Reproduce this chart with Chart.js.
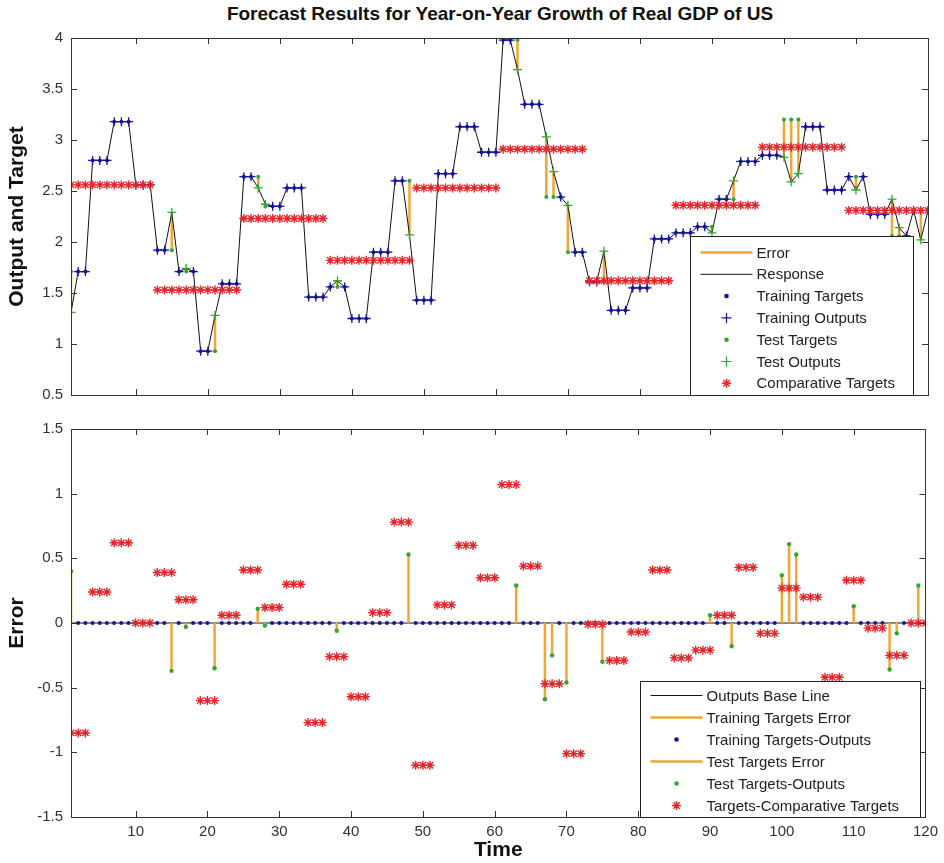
<!DOCTYPE html>
<html>
<head>
<meta charset="utf-8">
<script src="https://cdn.jsdelivr.net/npm/chart.js@4.4.1/dist/chart.umd.min.js"></script>
<style>
  body { margin: 0; background: #fff; }
  #wrap { position: relative; width: 944px; height: 863px; }
  #title { position: absolute; top: 2px; left: 71px; width: 858px; text-align: center;
           font: bold 19px 'Liberation Sans', Arial, sans-serif; color: #111; line-height: 24px; }
  canvas { position: absolute; left: 0; }
</style>
</head>
<body>
<div id="wrap">
  <div id="title">Forecast Results for Year-on-Year Growth of Real GDP of US</div>
  <canvas id="outputChart" width="944" height="412" style="top:0"></canvas>
  <canvas id="errorChart" width="944" height="451" style="top:412px"></canvas>
</div>
<script>
// time index 1..120
const time = Array.from({length: 120}, (_, i) => i + 1);

// targets
const targets = [
  1.71, 1.71, 1.71, 2.80, 2.80, 2.80, 3.18, 3.18, 3.18, 2.56, 2.56, 2.56,
  1.92, 1.92, 1.92, 1.71, 1.71, 1.71, 0.93, 0.93, 0.93, 1.59, 1.59, 1.59,
  2.64, 2.64, 2.64, 2.35, 2.35, 2.35, 2.53, 2.53, 2.53, 1.46, 1.46, 1.46,
  1.56, 1.56, 1.56, 1.25, 1.25, 1.25, 1.90, 1.90, 1.90, 2.60, 2.60, 2.60,
  1.43, 1.43, 1.43, 2.67, 2.67, 2.67, 3.13, 3.13, 3.13, 2.88, 2.88, 2.88,
  3.98, 3.98, 3.98, 3.35, 3.35, 3.35, 2.44, 2.44, 2.44, 1.90, 1.90, 1.90,
  1.61, 1.61, 1.61, 1.33, 1.33, 1.33, 1.55, 1.55, 1.55, 2.03, 2.03, 2.03,
  2.09, 2.09, 2.09, 2.15, 2.15, 2.15, 2.42, 2.42, 2.42, 2.79, 2.79, 2.79,
  2.85, 2.85, 2.85, 3.20, 3.20, 3.20, 3.13, 3.13, 3.13, 2.51, 2.51, 2.51,
  2.64, 2.64, 2.64, 2.27, 2.27, 2.27, 2.06, 2.06, 2.06, 2.31, 2.31, 2.31
];

// comparative targets (yearly level)
const comparativeTargets = [
  2.56, 2.56, 2.56, 2.56, 2.56, 2.56, 2.56, 2.56, 2.56, 2.56, 2.56, 2.56,
  1.53, 1.53, 1.53, 1.53, 1.53, 1.53, 1.53, 1.53, 1.53, 1.53, 1.53, 1.53,
  2.23, 2.23, 2.23, 2.23, 2.23, 2.23, 2.23, 2.23, 2.23, 2.23, 2.23, 2.23,
  1.82, 1.82, 1.82, 1.82, 1.82, 1.82, 1.82, 1.82, 1.82, 1.82, 1.82, 1.82,
  2.53, 2.53, 2.53, 2.53, 2.53, 2.53, 2.53, 2.53, 2.53, 2.53, 2.53, 2.53,
  2.91, 2.91, 2.91, 2.91, 2.91, 2.91, 2.91, 2.91, 2.91, 2.91, 2.91, 2.91,
  1.62, 1.62, 1.62, 1.62, 1.62, 1.62, 1.62, 1.62, 1.62, 1.62, 1.62, 1.62,
  2.36, 2.36, 2.36, 2.36, 2.36, 2.36, 2.36, 2.36, 2.36, 2.36, 2.36, 2.36,
  2.93, 2.93, 2.93, 2.93, 2.93, 2.93, 2.93, 2.93, 2.93, 2.93, 2.93, 2.93,
  2.31, 2.31, 2.31, 2.31, 2.31, 2.31, 2.31, 2.31, 2.31, 2.31, 2.31, 2.31
];

// test samples and the network outputs at them
const testTimes   = [1, 15, 17, 21, 27, 28, 38, 48, 63, 67, 68, 70, 75, 90, 93, 100, 101, 102, 110, 115, 116, 119];
const testOutputs = [1.31, 2.29, 1.74, 1.28, 2.53, 2.37, 1.62, 2.07, 3.69, 3.03, 2.69, 2.36, 1.91, 2.09, 2.60, 2.83, 2.59, 2.67, 2.51, 2.42, 2.14, 2.02];

const xTicks = [10, 20, 30, 40, 50, 60, 70, 80, 90, 100, 110, 120];
const outputTicks = [0.5, 1, 1.5, 2, 2.5, 3, 3.5, 4];
const errorTicks = [-1.5, -1, -0.5, 0, 0.5, 1, 1.5];

const blue = '#14149a';
const green = '#2ea82e';
const red = '#e2262b';
const orange = '#f2a634';

// outputs = targets for training samples, network output for test samples
const outputs = targets.slice();
testTimes.forEach((t, i) => { outputs[t - 1] = testOutputs[i]; });
const trainTimes = time.filter(t => !testTimes.includes(t));

Chart.defaults.font.family = "'Liberation Sans', Arial, sans-serif";
Chart.defaults.color = '#222';

// box, inward ticks and legend like a MATLAB axes
const matlabFrame = {
  id: 'matlabFrame',
  afterDatasetsDraw(chart, args, opts) {
    const ctx = chart.ctx;
    const a = chart.chartArea;
    const sx = chart.scales.x, sy = chart.scales.y;
    ctx.save();
    ctx.strokeStyle = '#333';
    ctx.lineWidth = 1;
    ctx.beginPath();
    xTicks.forEach(v => {
      const px = Math.round(sx.getPixelForValue(v)) + 0.5;
      ctx.moveTo(px, a.top); ctx.lineTo(px, a.top + 6);
      ctx.moveTo(px, a.bottom); ctx.lineTo(px, a.bottom - 6);
    });
    opts.yTicks.forEach(v => {
      const py = Math.round(sy.getPixelForValue(v)) + 0.5;
      ctx.moveTo(a.left, py); ctx.lineTo(a.left + 6, py);
      ctx.moveTo(a.right, py); ctx.lineTo(a.right - 6, py);
    });
    ctx.stroke();
    ctx.strokeRect(Math.round(a.left) + 0.5, Math.round(a.top) + 0.5, Math.round(a.right - a.left), Math.round(a.bottom - a.top));

    // legend box
    const lg = opts.legend;
    const right = Math.round(a.right - lg.right) + 0.5;
    const bottom = Math.round(a.bottom) + 0.5;
    const left = right - lg.width, top = bottom - lg.height;
    ctx.fillStyle = '#fff';
    ctx.fillRect(left, top, lg.width, lg.height);
    ctx.strokeStyle = '#222';
    ctx.strokeRect(left, top, lg.width, lg.height);
    ctx.font = "15px 'Liberation Sans', Arial, sans-serif";
    ctx.textBaseline = 'middle';
    lg.items.forEach((it, i) => {
      const y = top + lg.first + i * lg.step;
      const mx = left + 36;
      ctx.strokeStyle = it.color;
      ctx.fillStyle = it.color;
      if (it.kind === 'line') {
        ctx.lineWidth = it.width;
        ctx.beginPath(); ctx.moveTo(left + 10, y); ctx.lineTo(left + 62, y); ctx.stroke();
      } else if (it.kind === 'dot') {
        ctx.beginPath(); ctx.arc(mx, y, 2.3, 0, Math.PI * 2); ctx.fill();
      } else if (it.kind === 'plus') {
        ctx.lineWidth = 1.2;
        ctx.beginPath(); ctx.moveTo(mx - 5, y); ctx.lineTo(mx + 5, y); ctx.moveTo(mx, y - 5); ctx.lineTo(mx, y + 5); ctx.stroke();
      } else if (it.kind === 'star') {
        ctx.lineWidth = 1.4;
        ctx.beginPath();
        ctx.moveTo(mx - 4.5, y); ctx.lineTo(mx + 4.5, y); ctx.moveTo(mx, y - 4.5); ctx.lineTo(mx, y + 4.5);
        ctx.moveTo(mx - 3.2, y - 3.2); ctx.lineTo(mx + 3.2, y + 3.2); ctx.moveTo(mx - 3.2, y + 3.2); ctx.lineTo(mx + 3.2, y - 3.2);
        ctx.stroke();
      }
      ctx.fillStyle = '#222';
      ctx.fillText(it.label, left + 66, y + 1);
    });
    ctx.restore();
  }
};

function stems(ts, from, to) {
  const pts = [];
  ts.forEach(t => { pts.push({x: t, y: from(t)}, {x: t, y: to(t)}, {x: t, y: null}); });
  return pts;
}

function ordered(list) {
  return list.map((d, i) => Object.assign({order: list.length - i}, d));
}

function yAxis(min, max, tickList, label) {
  return {
    type: 'linear', min: min, max: max,
    afterBuildTicks: s => { s.ticks = tickList.map(v => ({value: v})); },
    afterFit: s => { s.width = 71; },
    grid: {display: false, drawTicks: false},
    border: {display: false},
    ticks: {padding: 8, font: {size: 15}, color: '#333', callback: v => String(v)},
    title: {display: true, text: label, color: '#111', font: {size: 21, weight: 'bold'}, padding: {top: 5, bottom: 0}}
  };
}

// top panel: outputs and targets
new Chart(document.getElementById('outputChart').getContext('2d'), {
  type: 'line',
  data: {
    datasets: ordered([
      { label: 'Error', data: stems(testTimes, t => targets[t - 1], t => outputs[t - 1]),
        borderColor: orange, borderWidth: 2.5, pointRadius: 0, spanGaps: false },
      { label: 'Response', data: time.map(t => ({x: t, y: outputs[t - 1]})),
        borderColor: '#111', borderWidth: 1, pointRadius: 0 },
      { label: 'Training Targets', data: trainTimes.map(t => ({x: t, y: targets[t - 1]})),
        showLine: false, pointStyle: 'circle', pointRadius: 2, pointBorderWidth: 0, pointBackgroundColor: blue },
      { label: 'Training Outputs', data: trainTimes.map(t => ({x: t, y: outputs[t - 1]})),
        showLine: false, pointStyle: 'cross', pointRadius: 4.5, pointBorderWidth: 1.3, pointBorderColor: blue },
      { label: 'Test Targets', data: testTimes.map(t => ({x: t, y: targets[t - 1]})),
        showLine: false, pointStyle: 'circle', pointRadius: 2, pointBorderWidth: 0, pointBackgroundColor: green },
      { label: 'Test Outputs', data: testTimes.map(t => ({x: t, y: outputs[t - 1]})),
        showLine: false, pointStyle: 'cross', pointRadius: 4.5, pointBorderWidth: 1.3, pointBorderColor: green },
      { label: 'Comparative Targets', data: time.map(t => ({x: t, y: comparativeTargets[t - 1]})),
        showLine: false, pointStyle: 'star', pointRadius: 4.5, pointBorderWidth: 1.4, pointBorderColor: red }
    ])
  },
  options: {
    responsive: false,
    animation: false,
    events: [],
    layout: {padding: {left: 0, right: 16, top: 38, bottom: 9}},
    scales: {
      x: {type: 'linear', display: false, min: 1, max: 120},
      y: yAxis(0.5, 4, outputTicks, 'Output and Target')
    },
    plugins: {
      legend: {display: false},
      tooltip: {enabled: false},
      matlabFrame: {
        yTicks: outputTicks,
        legend: {
          right: 15, width: 223, height: 159, first: 16, step: 21.8,
          items: [
            {label: 'Error', kind: 'line', color: orange, width: 2.5},
            {label: 'Response', kind: 'line', color: '#111', width: 1},
            {label: 'Training Targets', kind: 'dot', color: blue},
            {label: 'Training Outputs', kind: 'plus', color: blue},
            {label: 'Test Targets', kind: 'dot', color: green},
            {label: 'Test Outputs', kind: 'plus', color: green},
            {label: 'Comparative Targets', kind: 'star', color: red}
          ]
        }
      }
    }
  },
  plugins: [matlabFrame]
});

// bottom panel: errors
new Chart(document.getElementById('errorChart').getContext('2d'), {
  type: 'line',
  data: {
    datasets: ordered([
      { label: 'Outputs Base Line', data: time.map(t => ({x: t, y: 0})),
        borderColor: '#111', borderWidth: 1, pointRadius: 0 },
      { label: 'Training Targets Error', data: stems(trainTimes, t => 0, t => targets[t - 1] - outputs[t - 1]),
        borderColor: orange, borderWidth: 2.5, pointRadius: 0, spanGaps: false },
      { label: 'Training Targets-Outputs', data: trainTimes.map(t => ({x: t, y: targets[t - 1] - outputs[t - 1]})),
        showLine: false, pointStyle: 'circle', pointRadius: 2, pointBorderWidth: 0, pointBackgroundColor: blue },
      { label: 'Test Targets Error', data: stems(testTimes, t => 0, t => targets[t - 1] - outputs[t - 1]),
        borderColor: orange, borderWidth: 2.5, pointRadius: 0, spanGaps: false },
      { label: 'Test Targets-Outputs', data: testTimes.map(t => ({x: t, y: targets[t - 1] - outputs[t - 1]})),
        showLine: false, pointStyle: 'circle', pointRadius: 2.2, pointBorderWidth: 0, pointBackgroundColor: green },
      { label: 'Targets-Comparative Targets', data: time.map(t => ({x: t, y: targets[t - 1] - comparativeTargets[t - 1]})),
        showLine: false, pointStyle: 'star', pointRadius: 4.5, pointBorderWidth: 1.4, pointBorderColor: red }
    ])
  },
  options: {
    responsive: false,
    animation: false,
    events: [],
    layout: {padding: {left: 0, right: 16, top: 9, bottom: 0}},
    scales: {
      x: {
        type: 'linear', min: 1, max: 120,
        afterBuildTicks: s => { s.ticks = xTicks.map(v => ({value: v})); },
        afterFit: s => { s.height = 46; },
        grid: {display: false, drawTicks: false},
        border: {display: false},
        ticks: {padding: 6, autoSkip: false, maxRotation: 0, font: {size: 15}, color: '#333'},
        title: {display: true, text: 'Time', color: '#111', font: {size: 21, weight: 'bold'}, padding: {top: 0, bottom: 0}}
      },
      y: yAxis(-1.5, 1.5, errorTicks, 'Error')
    },
    plugins: {
      legend: {display: false},
      tooltip: {enabled: false},
      matlabFrame: {
        yTicks: errorTicks,
        legend: {
          right: 5, width: 280, height: 136, first: 14, step: 22,
          items: [
            {label: 'Outputs Base Line', kind: 'line', color: '#111', width: 1},
            {label: 'Training Targets Error', kind: 'line', color: orange, width: 2.5},
            {label: 'Training Targets-Outputs', kind: 'dot', color: blue},
            {label: 'Test Targets Error', kind: 'line', color: orange, width: 2.5},
            {label: 'Test Targets-Outputs', kind: 'dot', color: green},
            {label: 'Targets-Comparative Targets', kind: 'star', color: red}
          ]
        }
      }
    }
  },
  plugins: [matlabFrame]
});
</script>
</body>
</html>
